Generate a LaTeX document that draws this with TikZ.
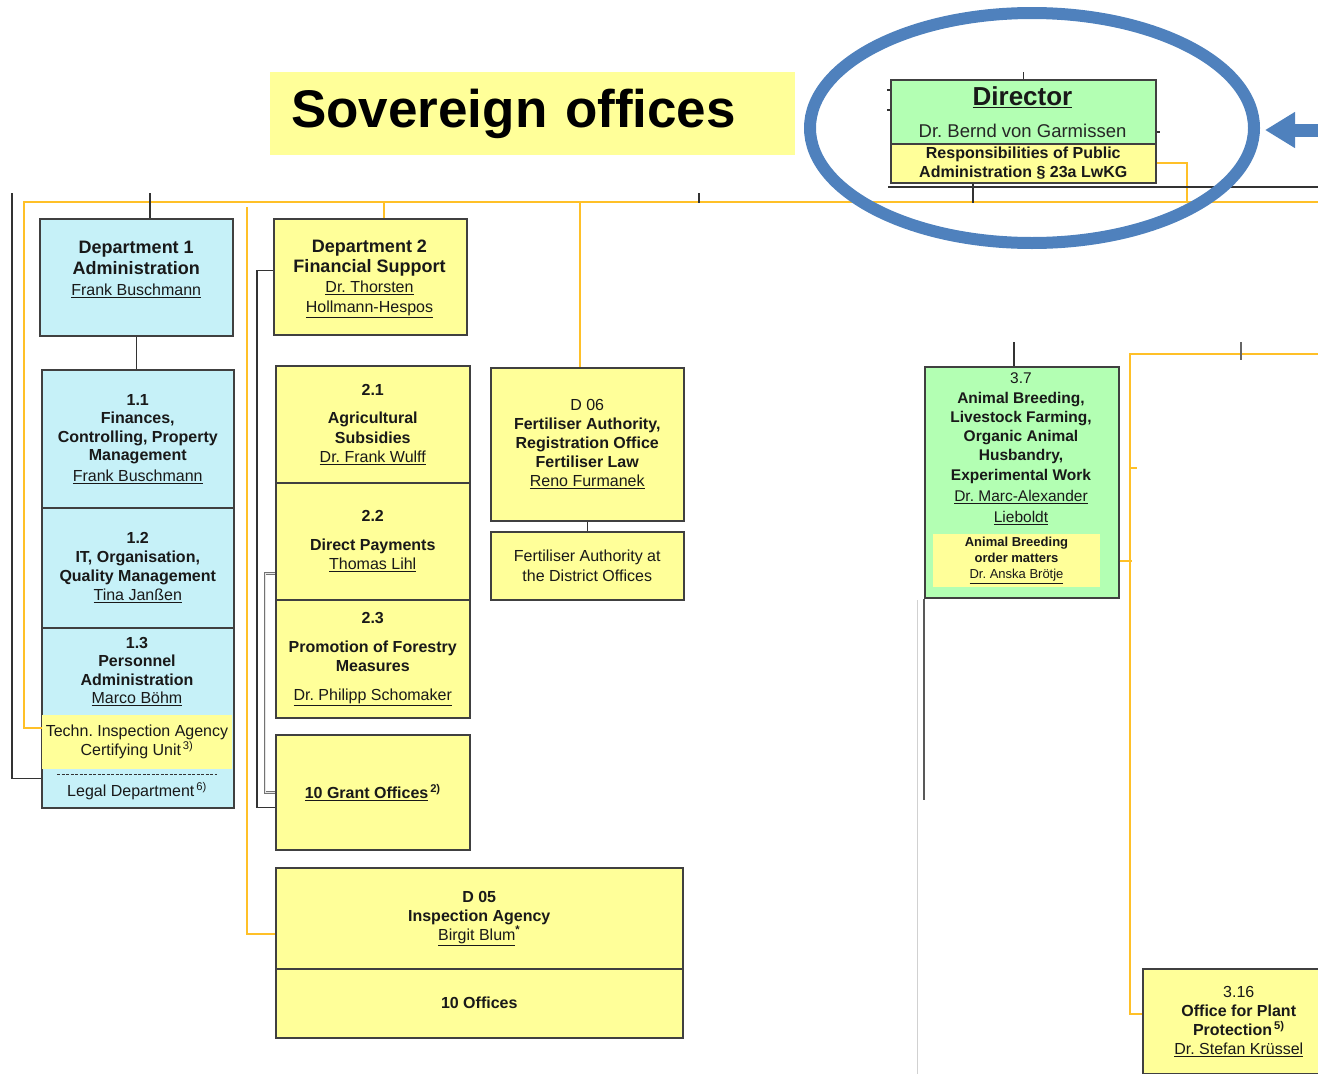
\documentclass[tikz,border=0pt]{standalone}
\usepackage{fontspec}
\setmainfont{Liberation Sans}
\usepackage{tikz}
\usetikzlibrary{arrows.meta}
\usetikzlibrary{calc}
\definecolor{deptblue}{RGB}{198,241,248}
\definecolor{deptyellow}{RGB}{255,255,153}
\definecolor{deptgreen}{RGB}{179,255,179}
\definecolor{linegold}{RGB}{255,192,40}
\definecolor{ringblue}{RGB}{79,129,189}
\newcommand{\fs}[2]{\fontsize{#1}{#2}\selectfont}
\newcommand{\nm}[2][16]{{\fontsize{#1}{19}\selectfont\mdseries\underline{#2}}}
\frenchspacing

\begin{document}
\begin{tikzpicture}[x=1pt,y=-1pt,
  box/.style={draw=black!75, line width=1.5pt, inner sep=0pt, align=center, anchor=north west, text=black!90, font={\fs{16}{19}\bfseries}},
  sz/.style 2 args={minimum width=#1pt, minimum height=#2pt},
  bluebox/.style={box, fill=deptblue},
  yelbox/.style={box, fill=deptyellow},
  greenbox/.style={box, fill=deptgreen},
  txt/.style={inner sep=0pt, align=center, text=black!90, font={\fs{16}{19}\bfseries}},
  conn/.style={black!80, line width=1.4pt},
  yline/.style={linegold, line width=2pt}]

\clip (0,0) rectangle (1318,1074);

\node[fill=deptyellow, anchor=north west, minimum width=525pt, minimum height=83pt, inner xsep=21pt, text width=483pt, align=left, font={\fs{53}{60}\bfseries}] (title) at (270,72) {Sovereign offices};

% director
\node[greenbox, sz={265}{64}] (dir) at (890,79) {};
\node[txt, font={\fs{26}{28}\bfseries}] (dirhead) at (1022.5,97) {\underline{Director}};
\node[txt, font={\fs{18.5}{20}}, text=black!85] (dirname) at (1022.5,131) {Dr. Bernd von Garmissen};
\node[yelbox, sz={265}{39}] (dirresp) at (890,143) {Responsibilities of Public\\Administration § 23a LwKG};

% department 1
\node[bluebox, sz={193}{117}, font={\fs{18}{21}\bfseries}] (dep1) at (39,218) {Department 1\\Administration\\\nm{Frank Buschmann}\\[-4pt]\mbox{}};
\node[bluebox, sz={192}{138}, font={\fs{16}{18.5}\bfseries}] (sec11) at (41,369) {1.1\\Finances,\\Controlling, Property\\Management\\[2pt]\nm{Frank Buschmann}};
\node[bluebox, sz={192}{120}] (sec12) at (41,507) {1.2\\IT, Organisation,\\Quality Management\\\nm{Tina Janßen}};
\node[bluebox, sz={192}{180}] (sec13) at (41,627) {};
\node[txt, font={\fs{16}{18.3}\bfseries}] (s13txt) at (137,671.5) {1.3\\Personnel\\Administration\\\nm{Marco Böhm}};
\node[txt, fill=deptyellow, minimum width=190.5pt, minimum height=54pt, font={\fs{16}{19}}] (tia) at (137,742) {Techn. Inspection Agency\\Certifying Unit\textsuperscript{\,3)}};
\draw[black!80, line width=0.8pt, dash pattern=on 3pt off 1.5pt] (57,774) -- (217,774);
\node[txt, font={\fs{16}{19}}] (legal) at (137,791) {Legal Department\textsuperscript{\,6)}};

% department 2
\node[yelbox, sz={193}{116}] (dep2) at (273,218) {};
\node[txt, font={\fs{18}{20}\bfseries}] (dep2txt) at (369.5,279) {Department 2\\Financial Support\\\nm{Dr. Thorsten}\\\nm{Hollmann-Hespos}};
\node[yelbox, sz={194}{117}, font={\fs{16}{19.5}\bfseries}] (sec21) at (275,365) {2.1\\[9pt]Agricultural\\Subsidies\\\nm{Dr. Frank Wulff}};
\node[yelbox, sz={194}{117}] (sec22) at (275,482) {2.2\\[10pt]Direct Payments\\\nm{Thomas Lihl}};
\node[yelbox, sz={194}{118}] (sec23) at (275,599) {2.3\\[10pt]Promotion of Forestry\\Measures\\[10pt]\nm{Dr. Philipp Schomaker}};
\node[yelbox, sz={194}{115}] (grant) at (275,734) {\underline{10 Grant Offices}\textsuperscript{\,2)}};
\node[yelbox, sz={193}{153}] (d06) at (490,367) {{\mdseries D 06}\\Fertiliser Authority,\\Registration Office\\Fertiliser Law\\\nm{Reno Furmanek}};
\node[yelbox, sz={193}{68}, font={\fs{16}{20}}] (district) at (490,531) {Fertiliser Authority at\\the District Offices};
\node[yelbox, sz={407}{101}] (d05) at (275,867) {D 05\\Inspection Agency\\\nm{Birgit Blum}\textsuperscript{*}};
\node[yelbox, sz={407}{69}] (off10) at (275,968) {10 Offices};

% department 3
\node[greenbox, sz={194}{231}] (s37) at (924,366) {};
\node[txt, font={\fs{15.5}{19.3}\bfseries}] (s37txt) at (1021,449) {{\mdseries 3.7}\\Animal Breeding,\\Livestock Farming,\\Organic Animal\\Husbandry,\\Experimental Work\\[2pt]\nm[15.5]{Dr. Marc-Alexander}\\[2pt]\nm[15.5]{Lieboldt}};
\node[txt, fill=deptyellow, minimum width=167pt, minimum height=53pt, font={\fs{13}{16}\bfseries}] (abo) at (1016.5,560.5) {Animal Breeding\\order matters\\\nm[13]{Dr. Anska Brötje}};
\node[yelbox, sz={192}{105}] (s316) at (1142,968) {{\mdseries 3.16}\\Office for Plant\\Protection\textsuperscript{\,5)}\\\nm{Dr. Stefan Krüssel}};

% gold lines
\coordinate (yR) at (1318,202);
\coordinate (tapD2) at (384,202);
\coordinate (tapD6) at (580,202);
\coordinate (tapDir) at (1187,202);
\coordinate (y5top) at (247,207);
\coordinate (yR3) at (1318,354);
\coordinate (bus3) at (1130,354);
\coordinate (bustick) at (1130,468);
\draw[yline] ([yshift=14pt]tia.west) -- ++(-18,0) |- (yR);
\draw[yline] (tapD2) -- (tapD2 |- dep2.north);
\draw[yline] (tapD6) -- (tapD6 |- d06.north);
\draw[yline] (dirresp.east) -| (tapDir);
\draw[yline] (y5top) |- ([yshift=-15.5pt]d05.west);
\draw[yline] (yR3) -- (bus3) |- ([yshift=7.5pt]s316.west);
\draw[yline] ([yshift=-78.5pt]s37.east) -- ++(12,0);
\draw[yline] (bustick) -- ++(7,0);

% black lines
\coordinate (blkL) at (12,193);
\coordinate (t1) at (150,193);
\coordinate (t2) at (699,193);
\coordinate (dv) at (973,203);
\coordinate (dhl) at (888,187);
\coordinate (t37) at (1014,342);
\coordinate (t37r) at (1241,342);
\draw[conn] (blkL) |- ([yshift=30pt]sec13.south west);
\draw[conn] (t1) -- (t1 |- dep1.north);
\draw[conn] (dep1.south) -- (dep1.south |- sec11.north);
\draw[conn] (t2) -- ++(0,10);
\draw[conn] ([yshift=6pt]dep2.west) -- ++(-16,0) |- ([yshift=-15.5pt]grant.west);
\draw[black!55, line width=1pt, double=black!10, double distance=0.6pt] ([yshift=-32.5pt]sec22.west) -- ++(-10,0) |- (grant.west);
\draw[conn] (d06.south) -- (district.north);
\draw[conn] (dir.north) -- ++(0,-7);
\draw[conn] (dir.north west) ++(0,11) -- ++(-3,0);
\draw[conn] (dir.north west) ++(0,31) -- ++(-3,0);
\draw[conn] (dir.north east) ++(0,53) -- ++(3,0);
\draw[conn] (dv |- dirresp.south) -- (dv);
\draw[conn] (dhl) -- ++(440,0);
\draw[conn] (t37) -- (t37 |- s37.north);
\draw[conn, black!65] (s37.south west) -- ++(0,201);
\draw[black!18, line width=1pt] (917,600) -- (917,1074);
\draw[black!60, line width=2pt] (t37r) -- ++(0,18);

% highlight
\draw[ringblue, line width=12pt] (1032,128) ellipse [x radius=222pt, y radius=115pt];
\draw[ringblue, line width=13pt, -{Triangle[length=30pt, width=34pt]}] (1330,130) -- (1265,130);

\end{tikzpicture}
\end{document}
